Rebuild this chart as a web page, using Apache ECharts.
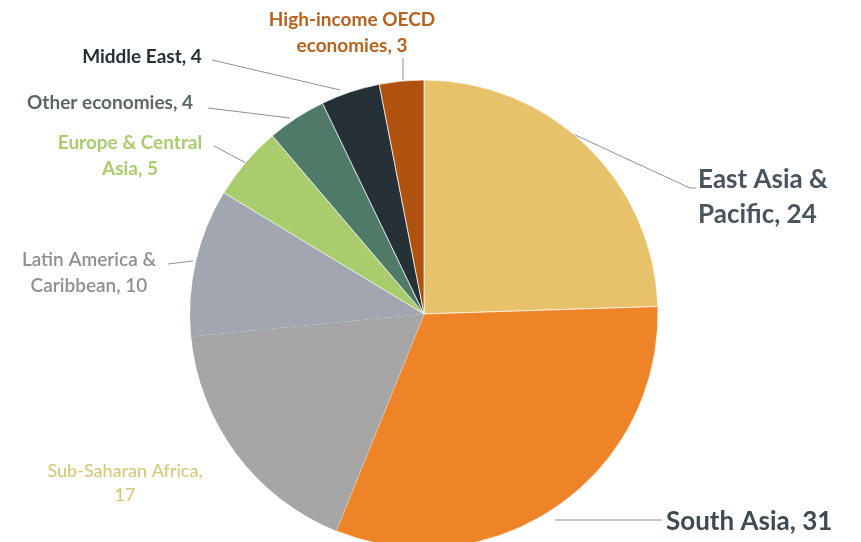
<!DOCTYPE html>
<html>
<head>
<meta charset="utf-8">
<script src="https://cdn.jsdelivr.net/npm/echarts@6/dist/echarts.min.js"></script>
<style>
	html, body {margin: 0; padding: 0; background: #fff;}
	#chart {width: 861px; height: 542px;}
</style>
</head>
<body>
<div id="chart"></div>
<script>
	// regions, clockwise from 12 o'clock
	var regions = ['East Asia & Pacific', 'South Asia', 'Sub-Saharan Africa', 'Latin America & Caribbean',
		'Europe & Central Asia', 'Other economies', 'Middle East', 'High-income OECD economies'];
	var counts = [24, 31, 17, 10, 5, 4, 4, 3];
	var labelText = ['East Asia &\nPacific, 24', 'South Asia, 31', 'Sub-Saharan Africa,\n17', 'Latin America &\nCaribbean, 10',
		'Europe & Central\nAsia, 5', 'Other economies, 4', 'Middle East, 4', 'High-income OECD\neconomies, 3'];
	var colors = ['#e7c26a', '#ee8427', '#a6a6a7', '#a1a6b1', '#a9cc6c', '#4f7a67', '#263137', '#b0520f'];
	var labelColors = ['#4a545e', '#3f4a52', '#d6c877', '#8e9094', '#a9cc6c', '#5d6667', '#263137', '#b8621c'];

	// label placement: [x, y, align, fontSize, weight, line points]
	var place = [
		[698, 197, 'left', 26, 700, [[560, 128], [690, 188], [696, 188]]],
		[666, 522, 'left', 26, 700, [[555, 520], [662, 520]]],
		[125, 483, 'center', 18, 500, null],
		[89, 273, 'center', 19, 600, [[168, 264], [193, 261]]],
		[130, 156, 'center', 19, 700, [[214, 146], [246, 163]]],
		[110, 103, 'center', 19, 700, [[208, 108], [290, 118]]],
		[142, 57, 'center', 19, 700, [[212, 60], [340, 90]]],
		[352, 33, 'center', 19, 700, [[403, 58], [403, 80]]]
	];

	var data = regions.map(function(n, i){
		return {
			name: n,
			value: counts[i],
			itemStyle: {color: colors[i], borderWidth: (i == 2 || i == 3) ? 0 : 1},
			label: {
				color: labelColors[i],
				fontSize: place[i][3],
				fontWeight: place[i][4],
				lineHeight: place[i][3] * 1.35
			},
			labelLine: {show: !!place[i][5]}
		};
	});

	var chart = echarts.init(document.getElementById('chart'));
	chart.setOption({
		animation: false,
		series: [{
			type: 'pie',
			center: [424, 314],
			radius: 234,
			startAngle: 90,
			clockwise: true,
			data: data,
			itemStyle: {borderColor: 'rgba(255,255,255,0.7)', borderWidth: 1},
			label: {
				show: true,
				position: 'outside',
				fontFamily: 'Lato, "Open Sans", sans-serif',
				formatter: function(p){ return labelText[p.dataIndex]; }
			},
			labelLine: {lineStyle: {color: '#8a9097', width: 1}},
			labelLayout: function(p){
				var s = place[p.dataIndex];
				var r = {x: s[0], y: s[1], align: s[2], verticalAlign: 'middle'};
				if(s[5]) r.labelLinePoints = s[5];
				return r;
			}
		}]
	});
</script>
</body>
</html>
